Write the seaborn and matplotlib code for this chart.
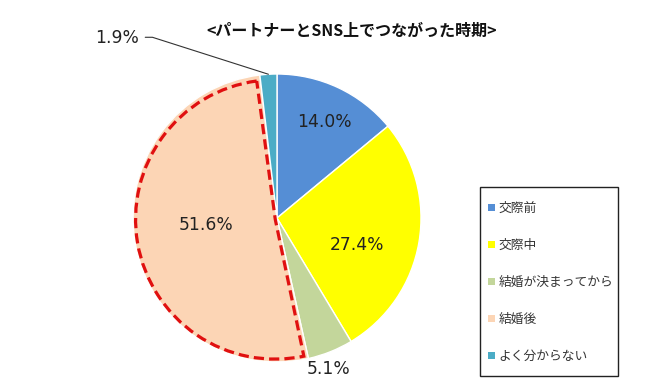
import numpy as np
import matplotlib
matplotlib.use("Agg")
import matplotlib.pyplot as plt
from matplotlib.patches import Wedge, Patch, Rectangle
import seaborn as sns

categories = ["交際前", "交際中", "結婚が決まってから", "結婚後", "よく分からない"]
values = [14.0, 27.4, 5.1, 51.6, 1.9]
colors = ["#558ED5", "#FFFF00", "#C3D69B", "#FCD5B5", "#4BACC6"]
title = "<パートナーとSNS上でつながった時期>"
highlight = "結婚後"

sns.set_theme(style="white")
plt.rcParams["font.family"] = ["Noto Sans CJK JP", "DejaVu Sans"]

W, H = 650, 392
fig = plt.figure(figsize=(6.5, 3.92), dpi=100)
cx, cy, r = 277, 218, 144
ax = fig.add_axes([(cx - r) / W, (H - cy - r) / H, 2 * r / W, 2 * r / H])

wedges, _ = ax.pie(values, colors=colors, startangle=90, counterclock=False,
                   radius=1, wedgeprops=dict(edgecolor="white", linewidth=1.0))
ax.set_xlim(-1, 1)
ax.set_ylim(-1, 1)
ax.axis("off")

# label positions (data units, radius = 1)
label_pos = [(0.33, 0.67), (0.555, -0.19), (0.36, -1.05), (-0.495, -0.05), (-1.11, 1.25)]
for v, (lx, ly) in zip(values, label_pos):
    ax.text(lx, ly, f"{v:.1f}%", ha="center", va="center", fontsize=12.3,
            family=["DejaVu Sans"], color="#222222", clip_on=False)

# leader line for the small slice
w_last = wedges[-1]
mid = np.deg2rad((w_last.theta1 + w_last.theta2) / 2)
px, py = np.cos(mid), np.sin(mid)
ax.plot([-0.915, -0.865, px * 1.0], [1.255, 1.255, py * 1.0], color="#333333",
        lw=0.8, clip_on=False)

# red dashed outline around highlighted slice
hi = wedges[categories.index(highlight)]
ax.add_patch(Wedge((-0.012, -0.01), 0.97, hi.theta1 + 0.8, hi.theta2 - 0.8, fill=False,
                   edgecolor="#E01010", linestyle=(0, (3.2, 1.6)), linewidth=2.3,
                   joinstyle="miter", zorder=5))

fig.text(352 / W, 1 - 31 / H, title, ha="center", va="center", fontsize=11.5,
         fontweight="bold", color="#111111")

# legend frame
fig.patches.append(Rectangle((480 / W, 1 - 376 / H), 138 / W, 189 / H,
                             transform=fig.transFigure, fill=False,
                             edgecolor="#222222", linewidth=1.0))
handles = [Patch(facecolor=c, edgecolor="none") for c in colors]
leg = fig.legend(handles, categories, loc="upper left",
                 bbox_to_anchor=(488 / W, 1 - 202 / H), borderaxespad=0,
                 fontsize=9.2, handlelength=0.55, handleheight=0.55,
                 handletextpad=0.3, labelspacing=1.88, borderpad=0,
                 frameon=False)
for t in leg.get_texts():
    t.set_color("#333333")

fig.savefig("out.png", dpi=100)
